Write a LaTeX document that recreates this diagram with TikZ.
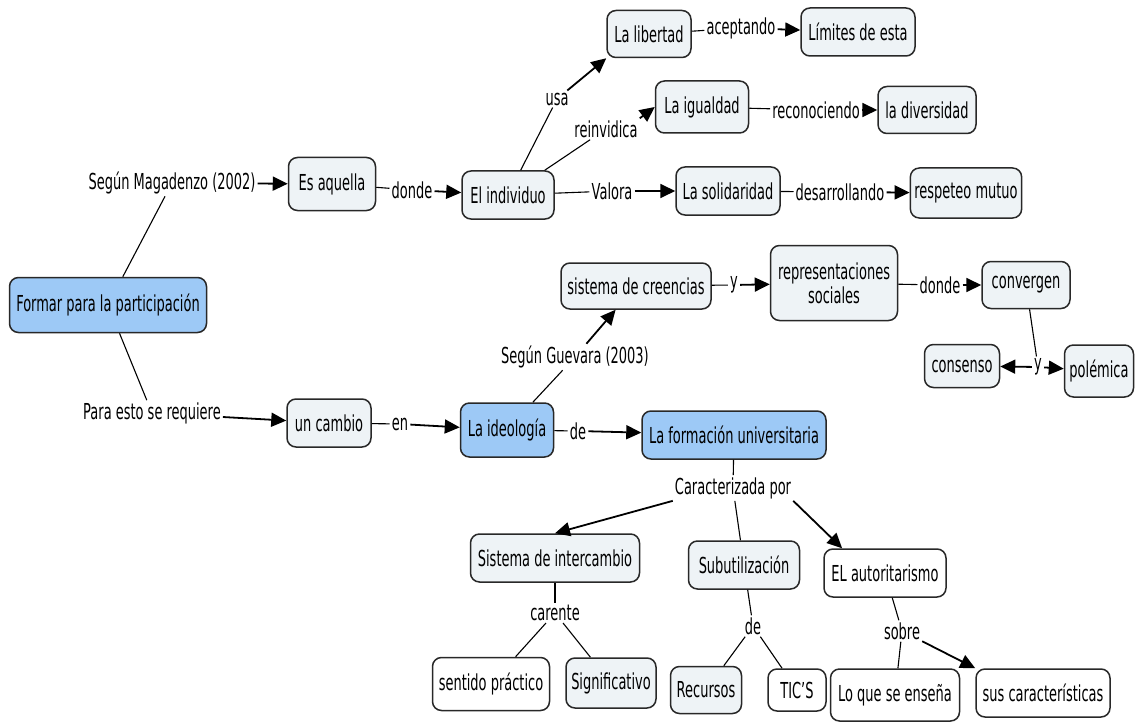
\documentclass[tikz,border=0pt]{standalone}
\usepackage{fontspec}
\setmainfont{DejaVu Sans}[FakeStretch=0.59]
\usepackage{tikz}
\usetikzlibrary{arrows.meta}
\definecolor{cmap-blue}{RGB}{157,201,246}
\definecolor{cmap-pale}{RGB}{238,243,246}
\definecolor{cmap-edge}{RGB}{40,40,40}

\begin{document}
\begin{tikzpicture}[
    x=1pt, y=-1pt,
    concept/.style={rectangle, draw=cmap-edge, line width=1.5pt, rounded corners=9pt, fill=cmap-pale, inner xsep=4pt, minimum height=48pt, align=center, font=\fontsize{22}{24}\selectfont},
    keyconcept/.style={concept, fill=cmap-blue},
    plainconcept/.style={concept, fill=white},
    link/.style={inner sep=2pt, font=\fontsize{22}{24}\selectfont},
    arrow/.style={-{Triangle[length=15pt, width=14pt]}, line width=1.8pt},
    joint/.style={line width=1.1pt}
]
\fill[white] (0,0) rectangle (1137,722);
\useasboundingbox (0,0) rectangle (1137,722);

\node[keyconcept, minimum width=197pt, minimum height=55pt] (formar) at (108,305) {Formar para la participación};
\node[concept, minimum width=87pt, minimum height=53pt] (esaquella) at (332,184) {Es aquella};
\node[concept, minimum width=92pt] (individuo) at (508,195) {El individuo};
\node[concept, minimum width=84pt, minimum height=47pt] (libertad) at (649,34) {La libertad};
\node[concept, minimum width=114pt] (limites) at (858,32) {Límites de esta};
\node[concept, minimum width=93pt, minimum height=52pt] (igualdad) at (702,107) {La igualdad};
\node[concept, minimum width=98pt, minimum height=47pt] (diversidad) at (927,110) {la diversidad};
\node[concept, minimum width=104pt] (solidaridad) at (728,191) {La solidaridad};
\node[concept, minimum width=109pt, minimum height=50pt] (respeto) at (966,193) {respeteo mutuo};
\node[concept, minimum width=150pt, minimum height=46pt] (creencias) at (636,286) {sistema de creencias};
\node[concept, minimum width=127pt, minimum height=75pt] (representaciones) at (834,283) {representaciones\\sociales};
\node[concept, minimum width=88pt, minimum height=47pt] (convergen) at (1026,285) {convergen};
\node[concept, minimum width=75pt, minimum height=43pt] (consenso) at (962,366) {consenso};
\node[concept, minimum width=69pt, minimum height=52pt] (polemica) at (1099,371) {polémica};
\node[concept, minimum width=84pt] (cambio) at (329,423) {un cambio};
\node[keyconcept, minimum width=93pt, minimum height=54pt] (ideologia) at (507,430) {La ideología};
\node[keyconcept, minimum width=184pt] (formacion) at (734,435) {La formación universitaria};
\node[concept, minimum width=169pt] (intercambio) at (555,558) {Sistema de intercambio};
\node[concept, minimum width=111pt] (subutilizacion) at (744,565) {Subutilización};
\node[plainconcept, minimum width=122pt] (autoritarismo) at (885,573) {EL autoritarismo};
\node[plainconcept, minimum width=117pt, minimum height=53pt] (sentido) at (491,684) {sentido práctico};
\node[concept, minimum width=90pt, minimum height=50pt] (significativo) at (611,683) {Significativo};
\node[concept, minimum width=71pt, minimum height=47pt] (recursos) at (706,690) {Recursos};
\node[plainconcept, minimum width=58pt, minimum height=42pt] (tics) at (797,690) {TIC'S};
\node[plainconcept, minimum width=129pt, minimum height=52pt] (ensena) at (895,695) {Lo que se enseña};
\node[plainconcept, minimum width=134pt] (caracteristicas) at (1043,693) {sus características};

\node[link] (magadenzo) at (172,183) {Según Magadenzo (2002)};
\node[link] (donde) at (412,190) {donde};
\node[link] (usa) at (557,99) {usa};
\node[link] (reinvidica) at (606,129) {reinvidica};
\node[link] (valora) at (612,191) {Valora};
\node[link] (aceptando) at (741,28) {aceptando};
\node[link] (reconociendo) at (816,110) {reconociendo};
\node[link] (desarrollando) at (840,192) {desarrollando};
\node[link] (guevara) at (575,357) {Según Guevara (2003)};
\node[link] (ycreencias) at (734,285) {y};
\node[link] (dondeconv) at (940,285) {donde};
\node[link] (yconv) at (1038,367) {y};
\node[link] (requiere) at (152,413) {Para esto se requiere};
\node[link] (en) at (400,424) {en};
\node[link] (deideo) at (578,431) {de};
\node[link] (caracterizada) at (733,488) {Caracterizada por};
\node[link] (carente) at (555,613) {carente};
\node[link] (derec) at (753,626) {de};
\node[link] (sobre) at (902,631) {sobre};

\draw[joint] (formar) -- (magadenzo);
\draw[arrow] (magadenzo) -- (esaquella);
\draw[joint] (esaquella) -- (donde);
\draw[arrow] (donde) -- (individuo);
\draw[joint] (individuo) -- (usa);
\draw[arrow] (usa) -- (libertad.south west);
\draw[joint] (individuo) -- (reinvidica);
\draw[arrow] (reinvidica.north east) -- (igualdad.west);
\draw[joint] (individuo) -- (valora);
\draw[arrow] (valora) -- (solidaridad);
\draw[joint] (libertad) -- (aceptando);
\draw[arrow] (aceptando) -- (limites);
\draw[joint] (igualdad) -- (reconociendo);
\draw[arrow] (reconociendo) -- (diversidad);
\draw[joint] (solidaridad) -- (desarrollando);
\draw[arrow] (desarrollando) -- (respeto);

\draw[joint] (formar) -- (requiere);
\draw[arrow] (requiere) -- (cambio);
\draw[joint] (cambio) -- (en);
\draw[arrow] (en) -- (ideologia);
\draw[joint] (ideologia) -- (guevara);
\draw[arrow] (guevara) -- (creencias);
\draw[joint] (creencias) -- (ycreencias);
\draw[arrow] (ycreencias) -- (representaciones);
\draw[joint] (representaciones) -- (dondeconv);
\draw[arrow] (dondeconv) -- (convergen);
\draw[joint] (convergen) -- (yconv);
\draw[arrow] (yconv) -- (consenso);
\draw[arrow] (yconv) -- (polemica);
\draw[joint] (ideologia) -- (deideo);
\draw[arrow] (deideo) -- (formacion);

\draw[joint] (formacion) -- (caracterizada);
\draw[arrow] (caracterizada.south west) -- (intercambio.north);
\draw[joint] (caracterizada) -- (subutilizacion);
\draw[arrow] (caracterizada.south east) -- (autoritarismo.150);
\draw[joint] (intercambio) -- (carente);
\draw[joint] (carente) -- (sentido);
\draw[joint] (carente) -- (significativo);
\draw[joint] (subutilizacion) -- (derec);
\draw[joint] (derec) -- (recursos);
\draw[joint] (derec) -- (tics);
\draw[joint] (autoritarismo) -- (sobre);
\draw[joint] (sobre) -- (ensena);
\draw[arrow] (sobre) -- (caracteristicas.north west);

\end{tikzpicture}
\end{document}
